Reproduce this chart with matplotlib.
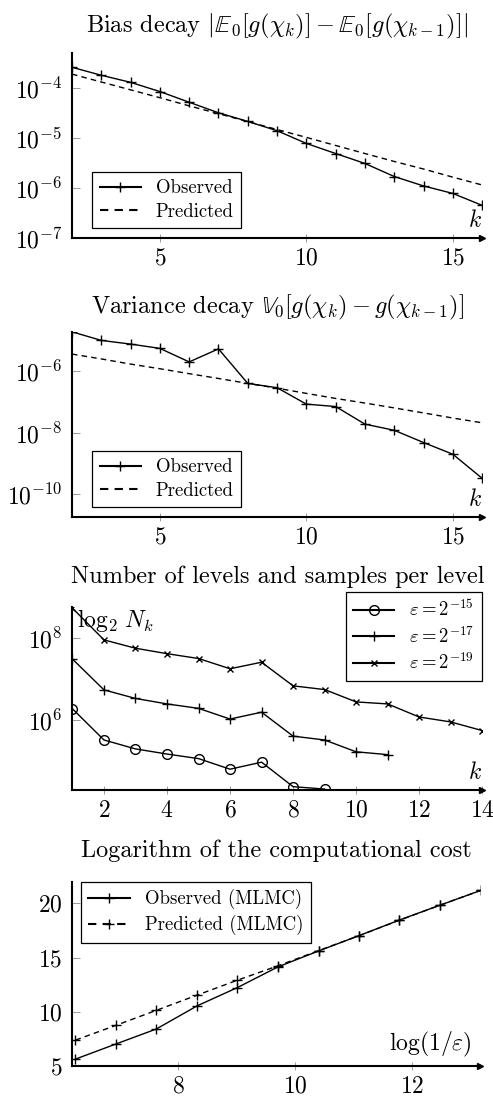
import numpy as np
import matplotlib
matplotlib.use('Agg')
import matplotlib.pyplot as plt
import matplotlib as mpl
import matplotlib.font_manager as font_manager
from matplotlib.ticker import LogLocator, NullLocator, NullFormatter, FixedLocator

## matplotlib settings ##
cmfont = font_manager.FontProperties(fname=mpl.get_data_path() + '/fonts/ttf/cmr10.ttf')
mpl.rcParams['font.family'] = 'serif'
mpl.rcParams['font.serif'] = cmfont.get_name()
mpl.rcParams['mathtext.fontset'] = 'cm'
mpl.rcParams['axes.unicode_minus'] = False
mpl.rcParams['axes.formatter.use_mathtext'] = True

#------------- data -------------#
levels = [2, 3, 4, 5, 6, 7, 8, 9, 10, 11, 12, 13, 14, 15, 16]

bias_observed = [2.6e-4, 1.8e-4, 1.3e-4, 8.5e-5, 5.2e-5, 3.2e-5, 2.15e-5, 1.4e-5,
                 7.8e-6, 4.9e-6, 3.1e-6, 1.7e-6, 1.1e-6, 7.8e-7, 4.5e-7]
bias_predicted = [1.9e-4, 1.32e-4, 9.2e-5, 6.4e-5, 4.4e-5, 3.07e-5, 2.13e-5, 1.48e-5,
                  1.03e-5, 7.1e-6, 4.9e-6, 3.4e-6, 2.4e-6, 1.65e-6, 1.15e-6]

var_observed = [1.9e-5, 1.0e-5, 7.6e-6, 5.5e-6, 2.0e-6, 5.3e-6, 4.0e-7, 2.9e-7,
                8.5e-8, 7.1e-8, 1.9e-8, 1.2e-8, 4.8e-9, 2.0e-9, 3.3e-10]
var_predicted = [3.6e-6, 2.5e-6, 1.7e-6, 1.2e-6, 8.3e-7, 5.8e-7, 4.0e-7, 2.8e-7,
                 1.9e-7, 1.3e-7, 9.2e-8, 6.4e-8, 4.4e-8, 3.0e-8, 2.1e-8]

eps_labels = [r'$\varepsilon = 2^{-15}$', r'$\varepsilon = 2^{-17}$', r'$\varepsilon = 2^{-19}$']
samples_15 = [1.9e6, 3.3e5, 2.0e5, 1.5e5, 1.16e5, 6.4e4, 9.5e4, 2.4e4, 2.1e4]
samples_17 = [3.1e7, 5.5e6, 3.4e6, 2.5e6, 1.95e6, 1.07e6, 1.57e6, 4.1e5, 3.3e5, 1.7e5, 1.45e5]
samples_19 = [5.4e8, 9.1e7, 5.7e7, 4.2e7, 3.2e7, 1.8e7, 2.6e7, 6.9e6, 5.6e6, 2.8e6,
              2.5e6, 1.2e6, 9.1e5, 5.6e5]

log_inv_eps = [6.24, 6.93, 7.62, 8.32, 9.01, 9.70, 10.40, 11.09, 11.78, 12.48, 13.17]
cost_observed = [5.64, 7.03, 8.41, 10.55, 12.24, 14.14, 15.62, 17.03, 18.47, 19.85, 21.2]
cost_predicted = [7.39, 8.75, 10.13, 11.54, 12.92, 14.24, 15.65, 17.03, 18.45, 19.85, 21.2]

#------------- helpers -------------#
TICK_FS = 17
LEG_FS = 13.5
TITLE_FS = 17.5
LW = 1.0
MS = 7


def style_axis(ax):
    for s in ['top', 'right']:
        ax.spines[s].set_visible(False)
    for s in ['left', 'bottom']:
        ax.spines[s].set_linewidth(1.5)
    ax.plot(1, 0, marker='>', color='k', ms=5, transform=ax.transAxes, clip_on=False)
    ax.tick_params(axis='x', which='major', direction='inout', length=6, width=0.6,
                   color='0.55', labelsize=TICK_FS, pad=4)
    ax.tick_params(axis='y', which='major', direction='in', length=6, width=0.6,
                   color='0.55', labelsize=TICK_FS, pad=7)
    ax.tick_params(axis='y', which='minor', direction='in', length=3, width=0.5, color='0.55')


def legend(ax, **kw):
    leg = ax.legend(fontsize=LEG_FS, fancybox=False, framealpha=1, edgecolor='k',
                    borderaxespad=0, handlelength=2.2, borderpad=0.4, labelspacing=0.3, **kw)
    leg.get_frame().set_linewidth(0.9)
    for h in leg.get_lines():
        h.set_linewidth(1.5)
    return leg


fig = plt.figure(figsize=(4.93, 10.99), dpi=100)

#------------- bias decay -------------#
ax1 = fig.add_axes([0.146, 0.7834, 0.832, 0.1683])
ax1.semilogy(levels, bias_observed, 'k-', marker='+', ms=MS, mew=1.0, lw=LW, label='Observed')
ax1.semilogy(levels, bias_predicted, 'k', ls=(0, (4, 3)), lw=LW, label='Predicted')
ax1.set_xlim(2, 16)
ax1.set_ylim(1e-7, 5e-4)
ax1.set_xticks([5, 10, 15])
ax1.yaxis.set_major_locator(FixedLocator([1e-7, 1e-6, 1e-5, 1e-4]))
ax1.yaxis.set_minor_locator(LogLocator(base=10, subs=np.arange(2, 10)))
ax1.yaxis.set_minor_formatter(NullFormatter())
style_axis(ax1)
ax1.set_title(r'Bias decay $|\mathbb{E}_{\mathbf{0}}[g(\chi_k)]-\mathbb{E}_{\mathbf{0}}[g(\chi_{k-1})]|$',
              fontsize=TITLE_FS, pad=15)
ax1.text(1.0, 0.03, r'$k$', transform=ax1.transAxes, ha='right', va='bottom', fontsize=TICK_FS)
legend(ax1, loc='lower left', bbox_to_anchor=(0.049, 0.052))

#------------- variance decay -------------#
ax2 = fig.add_axes([0.146, 0.5298, 0.832, 0.1683])
ax2.semilogy(levels, var_observed, 'k-', marker='+', ms=MS, mew=1.0, lw=LW, label='Observed')
ax2.semilogy(levels, var_predicted, 'k', ls=(0, (4, 3)), lw=LW, label='Predicted')
ax2.set_xlim(2, 16)
ax2.set_ylim(10**-10.73, 10**-4.72)
ax2.set_xticks([5, 10, 15])
ax2.yaxis.set_major_locator(FixedLocator([1e-10, 1e-8, 1e-6]))
ax2.yaxis.set_minor_locator(NullLocator())
style_axis(ax2)
ax2.set_title(r'Variance decay $\mathbb{V}_{\mathbf{0}}[g(\chi_k)-g(\chi_{k-1})]$',
              fontsize=TITLE_FS, pad=13)
ax2.text(1.0, 0.03, r'$k$', transform=ax2.transAxes, ha='right', va='bottom', fontsize=TICK_FS)
legend(ax2, loc='lower left', bbox_to_anchor=(0.049, 0.052))

#------------- samples per level -------------#
ax3 = fig.add_axes([0.147, 0.2812, 0.831, 0.1668])
ax3.semilogy(range(1, len(samples_15) + 1), samples_15, 'k-', marker='o', mfc='none',
             ms=7, mew=1.0, lw=LW, label=eps_labels[0])
ax3.semilogy(range(1, len(samples_17) + 1), samples_17, 'k-', marker='+',
             ms=MS, mew=1.0, lw=LW, label=eps_labels[1])
ax3.semilogy(range(1, len(samples_19) + 1), samples_19, 'k-', marker='x',
             ms=5, mew=1.0, lw=LW, label=eps_labels[2])
ax3.set_xlim(1, 14)
ax3.set_ylim(10**4.3, 10**8.77)
ax3.set_xticks([2, 4, 6, 8, 10, 12, 14])
ax3.yaxis.set_major_locator(FixedLocator([1e6, 1e8]))
ax3.yaxis.set_minor_locator(NullLocator())
style_axis(ax3)
ax3.set_title('Number of levels and samples per level', fontsize=TITLE_FS, pad=17)
ax3.text(1.0, 0.03, r'$k$', transform=ax3.transAxes, ha='right', va='bottom', fontsize=TICK_FS)
ax3.text(0.01, 1.0, r'$\log_2\,N_k$', transform=ax3.transAxes, ha='left', va='top', fontsize=TICK_FS)
legend(ax3, loc='upper right', bbox_to_anchor=(1.0, 1.082))

#------------- computational cost -------------#
ax4 = fig.add_axes([0.146, 0.0300, 0.828, 0.1677])
ax4.plot(log_inv_eps, cost_observed, 'k-', marker='+', ms=MS, mew=1.0, lw=LW, label='Observed (MLMC)')
ax4.plot(log_inv_eps, cost_predicted, 'k', ls=(0, (4, 3)), marker='+', ms=MS, mew=1.0, lw=LW,
         label='Predicted (MLMC)')
ax4.set_xlim(6.18, 13.16)
ax4.set_ylim(5, 22)
ax4.set_xticks([8, 10, 12])
ax4.set_yticks([5, 10, 15, 20])
style_axis(ax4)
ax4.set_title('Logarithm of the computational cost', fontsize=TITLE_FS, pad=18)
ax4.text(0.98, 0.04, r'$\log(1/\varepsilon)$', transform=ax4.transAxes, ha='right', va='bottom',
         fontsize=TICK_FS)
legend(ax4, loc='upper left', bbox_to_anchor=(0.022, 1.0))

fig.savefig('out.png', dpi=100)
